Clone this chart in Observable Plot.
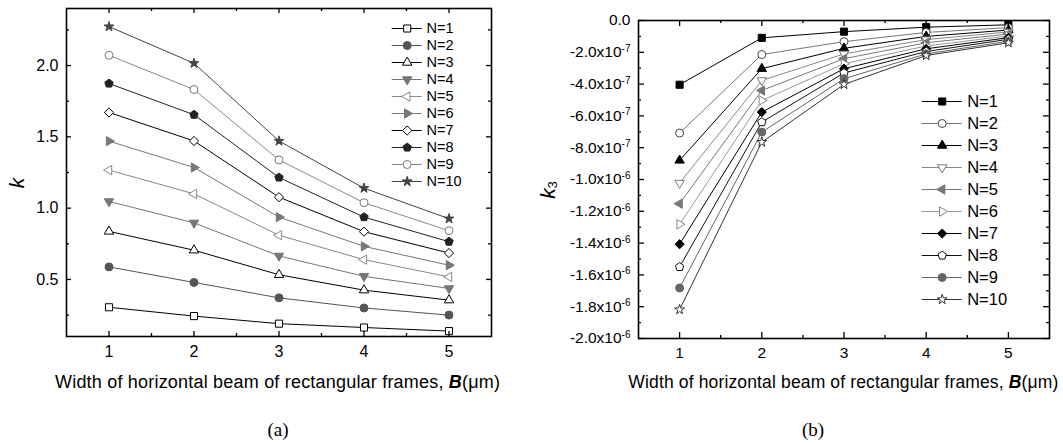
<!DOCTYPE html>
<html>
<head>
<meta charset="utf-8">
<script src="https://cdn.jsdelivr.net/npm/d3@7"></script>
<script src="https://cdn.jsdelivr.net/npm/@observablehq/plot@0.6"></script>
<style>
  body { margin: 0; background: white; }
  #wrap { position: relative; width: 1063px; height: 444px; background: white; overflow: hidden; }
  #wrap > * { position: absolute; }
  .cap { font-family: "Liberation Serif", "Times New Roman", serif; font-size: 19px; transform: translate(-50%, -50%); }
</style>
</head>
<body>
<div id="wrap"></div>
<script>
// ---------- data ----------
const B = [1, 2, 3, 4, 5];
const seriesN = ["N=1","N=2","N=3","N=4","N=5","N=6","N=7","N=8","N=9","N=10"];

// (a) k
const kN1  = [0.305, 0.243, 0.190, 0.163, 0.138];
const kN2  = [0.588, 0.479, 0.371, 0.300, 0.250];
const kN3  = [0.837, 0.705, 0.533, 0.425, 0.355];
const kN4  = [1.047, 0.897, 0.665, 0.522, 0.437];
const kN5  = [1.267, 1.100, 0.810, 0.639, 0.518];
const kN6  = [1.470, 1.285, 0.937, 0.732, 0.600];
const kN7  = [1.671, 1.471, 1.077, 0.835, 0.685];
const kN8  = [1.874, 1.655, 1.215, 0.937, 0.765];
const kN9  = [2.072, 1.832, 1.338, 1.038, 0.842];
const kN10 = [2.273, 2.016, 1.471, 1.140, 0.926];
const kLeft = [kN1, kN2, kN3, kN4, kN5, kN6, kN7, kN8, kN9, kN10];

// (b) k3
const k3N1  = [-4.04e-7, -1.09e-7, -0.70e-7, -0.42e-7, -0.27e-7];
const k3N2  = [-7.08e-7, -2.14e-7, -1.33e-7, -0.75e-7, -0.45e-7];
const k3N3  = [-8.80e-7, -3.03e-7, -1.75e-7, -1.00e-7, -0.60e-7];
const k3N4  = [-10.22e-7, -3.77e-7, -2.10e-7, -1.20e-7, -0.72e-7];
const k3N5  = [-11.52e-7, -4.40e-7, -2.40e-7, -1.40e-7, -0.85e-7];
const k3N6  = [-12.82e-7, -5.03e-7, -2.72e-7, -1.60e-7, -0.97e-7];
const k3N7  = [-14.07e-7, -5.76e-7, -3.03e-7, -1.78e-7, -1.08e-7];
const k3N8  = [-15.50e-7, -6.39e-7, -3.30e-7, -1.95e-7, -1.18e-7];
const k3N9  = [-16.82e-7, -7.02e-7, -3.66e-7, -2.10e-7, -1.30e-7];
const k3N10 = [-18.18e-7, -7.65e-7, -4.02e-7, -2.20e-7, -1.40e-7];
const k3Right = [k3N1, k3N2, k3N3, k3N4, k3N5, k3N6, k3N7, k3N8, k3N9, k3N10];

// ticks
const xMajor = [1, 2, 3, 4, 5];
const xMinor = [1.5, 2.5, 3.5, 4.5];
const kMajor = [0.5, 1.0, 1.5, 2.0];
const kMinor = [0.25, 0.75, 1.25, 1.75, 2.25];
const k3Major = [0, -2e-7, -4e-7, -6e-7, -8e-7, -1.0e-6, -1.2e-6, -1.4e-6, -1.6e-6, -1.8e-6, -2.0e-6];
const k3MajorLabels = ["0.0", "-2.0x10^-7", "-4.0x10^-7", "-6.0x10^-7", "-8.0x10^-7", "-1.0x10^-6",
                       "-1.2x10^-6", "-1.4x10^-6", "-1.6x10^-6", "-1.8x10^-6", "-2.0x10^-6"];
const k3Minor = [-1e-7, -3e-7, -5e-7, -7e-7, -9e-7, -1.1e-6, -1.3e-6, -1.5e-6, -1.7e-6, -1.9e-6];

// ---------- symbols ----------
function poly(n, a0, scale) {
  return { draw(ctx, size) {
    const R = Math.sqrt(size / Math.PI) * scale;
    for (let k = 0; k < n; k++) {
      const a = a0 + 2 * Math.PI * k / n;
      const px = R * Math.cos(a), py = R * Math.sin(a);
      k ? ctx.lineTo(px, py) : ctx.moveTo(px, py);
    }
    ctx.closePath();
  }};
}
const symSquare = { draw(ctx, size) { const s = Math.sqrt(size) / 2; ctx.rect(-s, -s, 2 * s, 2 * s); } };
const symCircle = d3.symbolCircle;
const symTriUp = poly(3, -Math.PI / 2, 1.35);
const symTriDown = poly(3, Math.PI / 2, 1.35);
const symTriLeft = poly(3, Math.PI, 1.35);
const symTriRight = poly(3, 0, 1.35);
const symDiamond = poly(4, -Math.PI / 2, 1.15);
const symPentagon = poly(5, -Math.PI / 2, 1.1);
const symStar = { draw(ctx, size) { d3.symbolStar.draw(ctx, size * 0.6); } };

// styles per series: [lineColor, symbol, fill, stroke]
const styleLeft = [
  ["#000", symSquare, "white", "#000"],
  ["#555", symCircle, "#555", "#555"],
  ["#000", symTriUp, "white", "#000"],
  ["#777", symTriDown, "#777", "#777"],
  ["#888", symTriLeft, "white", "#888"],
  ["#777", symTriRight, "#777", "#777"],
  ["#000", symDiamond, "white", "#000"],
  ["#222", symPentagon, "#222", "#222"],
  ["#888", symCircle, "white", "#777"],
  ["#444", symStar, "#444", "#444"]
];
const styleRight = [
  ["#000", symSquare, "#000", "#000"],
  ["#777", symCircle, "white", "#444"],
  ["#000", symTriUp, "#000", "#000"],
  ["#888", symTriDown, "white", "#777"],
  ["#777", symTriLeft, "#777", "#777"],
  ["#999", symTriRight, "white", "#888"],
  ["#000", symDiamond, "#000", "#000"],
  ["#111", symPentagon, "white", "#111"],
  ["#666", symCircle, "#666", "#666"],
  ["#333", symStar, "white", "#333"]
];

function rowsFor(vals) {
  return seriesN.map((n, i) => B.map((b, j) => ({ N: n, B: b, v: vals[i][j] })));
}

function seriesMarks(rows, styles, r) {
  const marks = [];
  rows.forEach((rs, i) => {
    const [lc, sym, fill, stroke] = styles[i];
    marks.push(Plot.line(rs, { x: "B", y: "v", stroke: lc, strokeWidth: 1 }));
    marks.push(Plot.dot(rs, { x: "B", y: "v", symbol: sym, r, fill, stroke, strokeWidth: 1 }));
  });
  return marks;
}

const wrap = document.getElementById("wrap");
const font = "'Liberation Sans', Arial, sans-serif";

// ---------- (a) ----------
const LW = 530, LH = 395, Lml = 66, Lmr = 39, Lmt = 8, Lmb = 59;
const LfW = LW - Lml - Lmr, LfH = LH - Lmt - Lmb;
const left = Plot.plot({
  width: LW, height: LH, marginLeft: Lml, marginRight: Lmr, marginTop: Lmt, marginBottom: Lmb,
  style: { fontFamily: font, fontSize: "16px", background: "transparent", color: "black", overflow: "visible" },
  x: { domain: [0.5, 5.5], label: null },
  y: { domain: [0.1, 2.4], label: null },
  marks: [
    ...seriesMarks(rowsFor(kLeft), styleLeft, 4),
    Plot.tickX(xMajor, { x: d => d, insetTop: LfH - 5, stroke: "black", strokeWidth: 1.3 }),
    Plot.tickX(xMinor, { x: d => d, insetTop: LfH - 3, stroke: "black", strokeWidth: 1.3 }),
    Plot.tickX(xMajor, { x: d => d, insetBottom: LfH - 5, stroke: "black", strokeWidth: 1.3 }),
    Plot.tickX(xMinor, { x: d => d, insetBottom: LfH - 3, stroke: "black", strokeWidth: 1.3 }),
    Plot.tickY(kMajor, { y: d => d, insetRight: LfW - 5, stroke: "black", strokeWidth: 1.3 }),
    Plot.tickY(kMinor, { y: d => d, insetRight: LfW - 3, stroke: "black", strokeWidth: 1.3 }),
    Plot.tickY(kMajor, { y: d => d, insetLeft: LfW - 5, stroke: "black", strokeWidth: 1.3 }),
    Plot.tickY(kMinor, { y: d => d, insetLeft: LfW - 3, stroke: "black", strokeWidth: 1.3 }),
    Plot.axisX({ ticks: xMajor, tickSize: 0, tickPadding: 9, tickFormat: d => String(d), label: null }),
    Plot.axisY({ ticks: kMajor, tickSize: 0, tickPadding: 8, tickFormat: d3.format(".1f"), label: null }),
    Plot.frame({ stroke: "black", strokeWidth: 1.6 })
  ]
});
left.style.left = "0px"; left.style.top = "0px";
wrap.appendChild(left);

// ---------- (b) ----------
const RW = 533, RH = 395, Rml = 108, Rmr = 14, Rmt = 20, Rmb = 57;
const RfW = RW - Rml - Rmr, RfH = RH - Rmt - Rmb;
const right = Plot.plot({
  width: RW, height: RH, marginLeft: Rml, marginRight: Rmr, marginTop: Rmt, marginBottom: Rmb,
  style: { fontFamily: font, fontSize: "15.5px", background: "transparent", color: "black", overflow: "visible" },
  x: { domain: [0.5, 5.5], label: null },
  y: { domain: [-2e-6, 0], label: null },
  marks: [
    ...seriesMarks(rowsFor(k3Right), styleRight, 4),
    Plot.tickX(xMajor, { x: d => d, insetTop: RfH - 6, stroke: "black", strokeWidth: 1.3 }),
    Plot.tickX(xMinor, { x: d => d, insetTop: RfH - 3, stroke: "black", strokeWidth: 1.3 }),
    Plot.tickX(xMajor, { x: d => d, insetBottom: RfH - 6, stroke: "black", strokeWidth: 1.3 }),
    Plot.tickX(xMinor, { x: d => d, insetBottom: RfH - 3, stroke: "black", strokeWidth: 1.3 }),
    Plot.tickY(k3Major, { y: d => d, insetRight: RfW - 6, stroke: "black", strokeWidth: 1.3 }),
    Plot.tickY(k3Minor, { y: d => d, insetRight: RfW - 3, stroke: "black", strokeWidth: 1.3 }),
    Plot.tickY(k3Major, { y: d => d, insetLeft: RfW - 6, stroke: "black", strokeWidth: 1.3 }),
    Plot.tickY(k3Minor, { y: d => d, insetLeft: RfW - 3, stroke: "black", strokeWidth: 1.3 }),
    Plot.axisX({ ticks: xMajor, tickSize: 0, tickPadding: 8, tickFormat: d => String(d), label: null }),
    Plot.axisY({ ticks: k3Major, tickSize: 0, tickPadding: 8,
                 tickFormat: (d) => k3MajorLabels[k3Major.indexOf(d)], label: null }),
    Plot.frame({ stroke: "black", strokeWidth: 1.6 })
  ]
});
right.style.left = "530px"; right.style.top = "0px";
wrap.appendChild(right);

// superscripts in (b) tick labels
d3.select(right).selectAll('g[aria-label="y-axis tick label"] text').each(function () {
  const s = this.textContent, p = s.split("^");
  if (p.length < 2) return;
  const t = d3.select(this);
  t.text(null);
  t.append("tspan").text(p[0]);
  t.append("tspan").attr("dy", "-0.55em").attr("font-size", "10px").text(p[1]);
});

// axis titles
function xTitle(svg, cx, y, size, len) {
  const t = d3.select(svg).append("text")
    .attr("x", cx).attr("y", y).attr("text-anchor", "middle")
    .attr("font-family", font).attr("font-size", size).attr("fill", "black")
    .attr("textLength", len).attr("lengthAdjust", "spacing");
  t.append("tspan").text("Width of horizontal beam of rectangular frames, ");
  t.append("tspan").attr("font-style", "italic").attr("font-weight", "bold").text("B");
  t.append("tspan").text("(\u03BCm)");
}
xTitle(left, 277.5, 388, 18, 445);
xTitle(right, 313.3, 388, 17.5, 430);

d3.select(left).append("text")
  .attr("transform", "translate(16,183) rotate(-90)")
  .attr("text-anchor", "middle").attr("dominant-baseline", "central")
  .attr("font-family", font).attr("font-size", 21).attr("font-style", "italic").text("k");
{
  const t = d3.select(right).append("text")
    .attr("transform", "translate(17,190) rotate(-90)")
    .attr("text-anchor", "middle").attr("dominant-baseline", "central")
    .attr("font-family", font).attr("font-size", 21);
  t.append("tspan").attr("font-style", "italic").text("k");
  t.append("tspan").attr("font-size", 13).attr("dy", "0.35em").text("3");
}

// ---------- legends ----------
function legend(styles, opts) {
  const { width, height, mt, mb, ml, mr, r, fontSize, dx } = opts;
  const marks = [];
  seriesN.forEach((n, i) => {
    const [lc, sym, fill, stroke] = styles[i];
    marks.push(Plot.ruleY([n], { y: d => d, stroke: lc, strokeWidth: 1 }));
    marks.push(Plot.dot([n], { y: d => d, frameAnchor: "middle", symbol: sym, r, fill, stroke, strokeWidth: 1 }));
  });
  marks.push(Plot.text(seriesN, { y: d => d, text: d => d, frameAnchor: "right", textAnchor: "start", dx, fill: "black" }));
  return Plot.plot({
    width, height, marginTop: mt, marginBottom: mb, marginLeft: ml, marginRight: mr,
    style: { fontFamily: font, fontSize: fontSize + "px", background: "transparent", overflow: "visible" },
    x: { axis: null, domain: [0, 1] },
    y: { type: "point", domain: seriesN, axis: null, padding: 0 },
    marks
  });
}
const legL = legend(styleLeft, { width: 90, height: 180, mt: 10, mb: 10.7, ml: 6.7, mr: 53.3, r: 4, fontSize: 14.5, dx: 4.3 });
legL.style.left = "385px"; legL.style.top = "15px";
wrap.appendChild(legL);
const legR = legend(styleRight, { width: 110, height: 230, mt: 11.7, mb: 12.7, ml: 6.7, mr: 63.3, r: 4, fontSize: 16.5, dx: 5 });
legR.style.left = "915px"; legR.style.top = "85px";
wrap.appendChild(legR);

// captions
for (const [txt, x] of [["(a)", 278], ["(b)", 813]]) {
  const d = document.createElement("div");
  d.className = "cap"; d.textContent = txt;
  d.style.left = x + "px"; d.style.top = "430px";
  wrap.appendChild(d);
}
</script>
</body>
</html>
